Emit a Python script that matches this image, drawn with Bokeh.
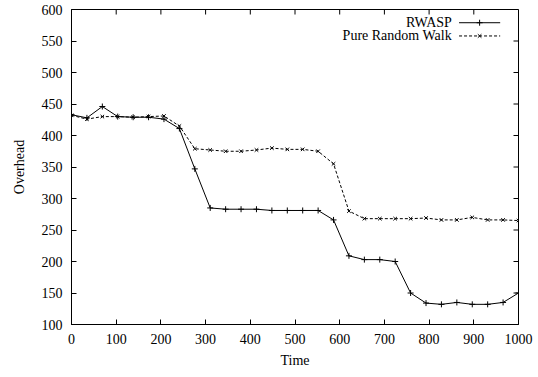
from bokeh.plotting import figure
from bokeh.models import FixedTicker, Label, Range1d
from bokeh.embed import file_html
from bokeh.resources import INLINE

# Sample times (30 evenly spaced observations)
time = [0, 34.5, 69, 103.4, 137.9, 172.4, 206.9, 241.4, 275.9, 310.3,
        344.8, 379.3, 413.8, 448.3, 482.8, 517.2, 551.7, 586.2, 620.7, 655.2,
        689.7, 724.1, 758.6, 793.1, 827.6, 862.1, 896.6, 931.0, 965.5, 1000]

rwasp = [433, 428, 446, 430, 429, 429, 426, 411, 347, 285,
         283, 283, 283, 281, 281, 281, 281, 266, 209, 203,
         203, 200, 150, 134, 132, 135, 132, 132, 135, 150]

pure_random_walk = [432, 426, 430, 430, 429, 430, 431, 415, 379, 377,
                    375, 375, 377, 380, 378, 378, 375, 355, 280, 268,
                    268, 268, 268, 269, 266, 266, 270, 266, 266, 265]

x_ticks = [0, 100, 200, 300, 400, 500, 600, 700, 800, 900, 1000]
y_ticks = [100, 150, 200, 250, 300, 350, 400, 450, 500, 550, 600]

series_names = ["RWASP", "Pure Random Walk"]

FONT = "Liberation Serif"
TICK_FONT = "'Liberation Serif', 'Times New Roman', serif"
FS = "14px"
X_MIN, X_MAX, Y_MIN, Y_MAX = 0, 1000, 100, 600

p = figure(width=538, height=377, output_backend="svg", toolbar_location=None,
           x_range=Range1d(X_MIN, X_MAX), y_range=Range1d(Y_MIN, Y_MAX),
           x_axis_label="Time", y_axis_label="Overhead",
           min_border_left=71, min_border_right=20,
           min_border_top=9, min_border_bottom=53)

p.background_fill_color = "white"
p.border_fill_color = "white"
p.outline_line_color = "black"
p.outline_line_width = 1
p.grid.visible = False

p.xaxis.ticker = FixedTicker(ticks=x_ticks)
p.yaxis.ticker = FixedTicker(ticks=y_ticks)

p.axis.major_tick_in = 5
p.axis.major_tick_out = 0
p.axis.minor_tick_in = 0
p.axis.minor_tick_out = 0
p.axis.axis_line_color = "black"
p.axis.major_tick_line_color = "black"
p.axis.major_label_text_font = TICK_FONT
p.axis.major_label_text_font_size = FS
p.axis.major_label_text_font_style = "normal"
p.axis.major_label_text_color = "black"
p.axis.axis_label_text_font = FONT
p.axis.axis_label_text_font_size = FS
p.axis.axis_label_text_font_style = "normal"
p.axis.axis_label_text_color = "black"

p.xaxis.major_label_standoff = 9
p.xaxis.axis_label_standoff = 6
p.yaxis.major_label_standoff = 9
p.yaxis.axis_label_standoff = 12

# Mirrored inward ticks along the top and right edges of the frame
tick_dx = 5 / 447 * (X_MAX - X_MIN)
tick_dy = 5 / 315 * (Y_MAX - Y_MIN)
p.segment(x0=x_ticks, y0=[Y_MAX] * len(x_ticks),
          x1=x_ticks, y1=[Y_MAX - tick_dy] * len(x_ticks),
          line_color="black", line_width=1)
p.segment(x0=[X_MAX] * len(y_ticks), y0=y_ticks,
          x1=[X_MAX - tick_dx] * len(y_ticks), y1=y_ticks,
          line_color="black", line_width=1)

# Data series
p.line(time, rwasp, line_color="black", line_width=1)
p.scatter(time, rwasp, marker="cross", size=6, line_color="black")

p.line(time, pure_random_walk, line_color="black", line_width=1, line_dash="3 2")
p.scatter(time, pure_random_walk, marker="x", size=5, line_color="black")

# Key in the upper-right corner: label, then line sample
key_text_x = 851
key_rows_y = [579, 558]
key_sample_x = [867, 959]
key_marker_x = [913]
key_styles = [("solid", "cross", 6), ("3 2", "x", 5)]

for name, ky, (dash, mk, sz) in zip(series_names, key_rows_y, key_styles):
    p.add_layout(Label(x=key_text_x, y=ky, text=name, text_align="right",
                       text_baseline="middle", text_font=FONT,
                       text_font_size=FS, text_color="black"))
    p.line(key_sample_x, [ky, ky], line_color="black", line_width=1, line_dash=dash)
    p.scatter(key_marker_x, [ky], marker=mk, size=sz, line_color="black")

open("out.html", "w").write(file_html(p, INLINE))
